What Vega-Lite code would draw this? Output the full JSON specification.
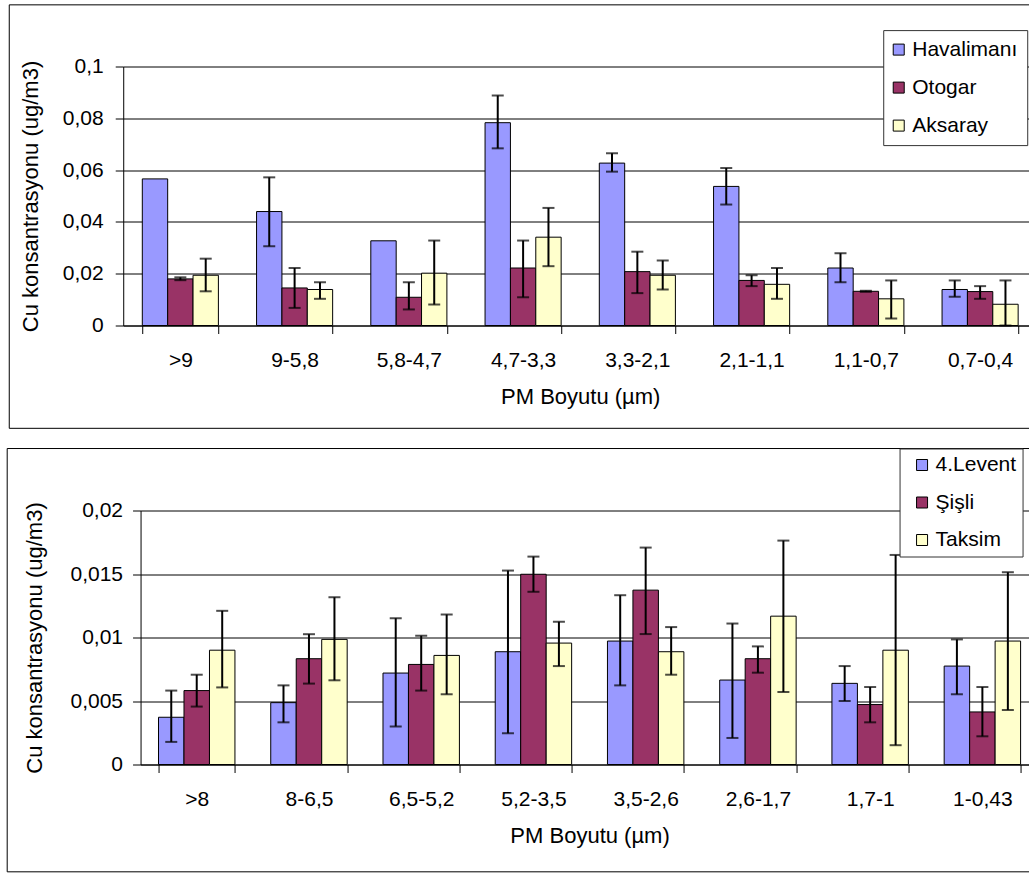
{
  "$schema": "https://vega.github.io/schema/vega-lite/v6.json",
  "padding": {"left": 6, "top": 3.5, "right": 0, "bottom": 0},
  "background": "#ffffff",
  "config": {
    "font": "Liberation Sans",
    "view": {"stroke": null},
    "axis": {
      "domainColor": "#000", "tickColor": "#000", "labelColor": "#000", "titleColor": "#000",
      "labelFontSize": 21, "titleFontSize": 22, "titleFontWeight": "normal",
      "tickSize": 8, "gridColor": "#000", "gridOpacity": 1, "domainWidth": 1, "tickWidth": 1
    },
    "axisX": {"labelAngle": 0, "tickBand": "extent", "labelPadding": 16, "titlePadding": 16, "grid": false},
    "axisY": {"grid": true},
    "legend": {
      "labelFontSize": 21, "labelColor": "#000", "symbolType": "square", "symbolSize": 121,
      "symbolStrokeColor": "#000", "symbolStrokeWidth": 1, "strokeColor": "#333", "fillColor": "#fff",
      "padding": 9, "rowPadding": 16, "labelOffset": 3, "title": null
    }
  },
  "datasets": {
    "top": [
      {"size": ">9", "site": "Havalimanı", "value": 0.0566},
      {"size": ">9", "site": "Otogar", "value": 0.0180, "lo": 0.0175, "hi": 0.0186},
      {"size": ">9", "site": "Aksaray", "value": 0.0194, "lo": 0.0132, "hi": 0.0258},
      {"size": "9-5,8", "site": "Havalimanı", "value": 0.0440, "lo": 0.0306, "hi": 0.0572},
      {"size": "9-5,8", "site": "Otogar", "value": 0.0145, "lo": 0.0068, "hi": 0.0222},
      {"size": "9-5,8", "site": "Aksaray", "value": 0.0139, "lo": 0.0103, "hi": 0.0167},
      {"size": "5,8-4,7", "site": "Havalimanı", "value": 0.0327},
      {"size": "5,8-4,7", "site": "Otogar", "value": 0.0109, "lo": 0.0062, "hi": 0.0167},
      {"size": "5,8-4,7", "site": "Aksaray", "value": 0.0202, "lo": 0.0081, "hi": 0.0328},
      {"size": "4,7-3,3", "site": "Havalimanı", "value": 0.0783, "lo": 0.0684, "hi": 0.0888},
      {"size": "4,7-3,3", "site": "Otogar", "value": 0.0222, "lo": 0.0109, "hi": 0.0328},
      {"size": "4,7-3,3", "site": "Aksaray", "value": 0.0341, "lo": 0.0229, "hi": 0.0454},
      {"size": "3,3-2,1", "site": "Havalimanı", "value": 0.0627, "lo": 0.0594, "hi": 0.0665},
      {"size": "3,3-2,1", "site": "Otogar", "value": 0.0208, "lo": 0.0125, "hi": 0.0285},
      {"size": "3,3-2,1", "site": "Aksaray", "value": 0.0194, "lo": 0.0139, "hi": 0.0251},
      {"size": "2,1-1,1", "site": "Havalimanı", "value": 0.0537, "lo": 0.0467, "hi": 0.0608},
      {"size": "2,1-1,1", "site": "Otogar", "value": 0.0174, "lo": 0.0152, "hi": 0.0194},
      {"size": "2,1-1,1", "site": "Aksaray", "value": 0.0159, "lo": 0.0103, "hi": 0.0222},
      {"size": "1,1-0,7", "site": "Havalimanı", "value": 0.0222, "lo": 0.0167, "hi": 0.0279},
      {"size": "1,1-0,7", "site": "Otogar", "value": 0.0132, "lo": 0.0130, "hi": 0.0134},
      {"size": "1,1-0,7", "site": "Aksaray", "value": 0.0103, "lo": 0.0027, "hi": 0.0174},
      {"size": "0,7-0,4", "site": "Havalimanı", "value": 0.0139, "lo": 0.0111, "hi": 0.0174},
      {"size": "0,7-0,4", "site": "Otogar", "value": 0.0131, "lo": 0.0103, "hi": 0.0152},
      {"size": "0,7-0,4", "site": "Aksaray", "value": 0.0082, "lo": 0.0, "hi": 0.0174}
    ],
    "bottom": [
      {"size": ">8", "site": "4.Levent", "value": 0.00372, "lo": 0.00178, "hi": 0.00582},
      {"size": ">8", "site": "Şişli", "value": 0.00582, "lo": 0.00456, "hi": 0.00707},
      {"size": ">8", "site": "Taksim", "value": 0.0090, "lo": 0.00607, "hi": 0.0121},
      {"size": "8-6,5", "site": "4.Levent", "value": 0.00487, "lo": 0.00332, "hi": 0.00623},
      {"size": "8-6,5", "site": "Şişli", "value": 0.00833, "lo": 0.00637, "hi": 0.01026},
      {"size": "8-6,5", "site": "Taksim", "value": 0.00985, "lo": 0.00663, "hi": 0.01317},
      {"size": "6,5-5,2", "site": "4.Levent", "value": 0.0072, "lo": 0.0030, "hi": 0.01152},
      {"size": "6,5-5,2", "site": "Şişli", "value": 0.00788, "lo": 0.00582, "hi": 0.01014},
      {"size": "6,5-5,2", "site": "Taksim", "value": 0.00859, "lo": 0.00553, "hi": 0.01181},
      {"size": "5,2-3,5", "site": "4.Levent", "value": 0.00888, "lo": 0.00246, "hi": 0.01527},
      {"size": "5,2-3,5", "site": "Şişli", "value": 0.01498, "lo": 0.0136, "hi": 0.01637},
      {"size": "5,2-3,5", "site": "Taksim", "value": 0.00956, "lo": 0.00775, "hi": 0.01124},
      {"size": "3,5-2,6", "site": "4.Levent", "value": 0.00972, "lo": 0.00623, "hi": 0.01333},
      {"size": "3,5-2,6", "site": "Şişli", "value": 0.01373, "lo": 0.01027, "hi": 0.01708},
      {"size": "3,5-2,6", "site": "Taksim", "value": 0.00888, "lo": 0.00707, "hi": 0.01082},
      {"size": "2,6-1,7", "site": "4.Levent", "value": 0.00665, "lo": 0.00209, "hi": 0.0111},
      {"size": "2,6-1,7", "site": "Şişli", "value": 0.00833, "lo": 0.00723, "hi": 0.0093},
      {"size": "2,6-1,7", "site": "Taksim", "value": 0.01168, "lo": 0.00571, "hi": 0.01763},
      {"size": "1,7-1", "site": "4.Levent", "value": 0.00639, "lo": 0.005, "hi": 0.00775},
      {"size": "1,7-1", "site": "Şişli", "value": 0.00472, "lo": 0.00332, "hi": 0.0061},
      {"size": "1,7-1", "site": "Taksim", "value": 0.009, "lo": 0.00152, "hi": 0.0165},
      {"size": "1-0,43", "site": "4.Levent", "value": 0.00775, "lo": 0.00553, "hi": 0.00985},
      {"size": "1-0,43", "site": "Şişli", "value": 0.00414, "lo": 0.00222, "hi": 0.0061},
      {"size": "1-0,43", "site": "Taksim", "value": 0.00972, "lo": 0.00429, "hi": 0.01514}
    ]
  },
  "spacing": 18,
  "center": true,
  "resolve": {
    "scale": {"x": "independent", "y": "independent", "xOffset": "independent", "color": "independent"},
    "legend": {"color": "independent"}
  },
  "vconcat": [
    {
      "width": 914,
      "height": 259,
      "data": {"name": "top"},
      "resolve": {"scale": {"x": "independent"}, "axis": {"x": "independent"}},
      "layer": [
        {
          "data": {"values": [{"part": "frame"}]},
          "mark": {"type": "rect", "filled": false, "color": "#000", "strokeWidth": 1},
          "encoding": {
            "x": {"datum": -0.1247, "type": "quantitative", "scale": {"domain": [0, 1]}, "axis": null},
            "x2": {"datum": 1.0263},
            "y": {"datum": 0.1238, "type": "quantitative", "scale": {"domain": [0, 0.1], "nice": false, "zero": false}, "title": "Cu konsantrasyonu (ug/m3)"},
            "y2": {"datum": -0.0397}
          }
        },
        {
          "encoding": {
            "x": {"field": "size", "type": "nominal", "sort": [">9", "9-5,8", "5,8-4,7", "4,7-3,3", "3,3-2,1", "2,1-1,1", "1,1-0,7", "0,7-0,4"], "scale": {"paddingInner": 0.334, "paddingOuter": 0.167}, "title": "PM Boyutu (µm)", "axis": {"orient": "bottom"}},
            "xOffset": {"field": "site", "type": "nominal", "scale": {"domain": ["Havalimanı", "Otogar", "Aksaray"], "paddingInner": 0, "paddingOuter": 0}}
          },
          "layer": [
            {
              "mark": {"type": "bar", "stroke": "#000", "strokeWidth": 1},
              "encoding": {
                "y": {"field": "value", "type": "quantitative", "scale": {"domain": [0, 0.1], "nice": false}, "title": "Cu konsantrasyonu (ug/m3)",
                  "axis": {"values": [0, 0.02, 0.04, 0.06, 0.08, 0.1], "format": "~g", "labelExpr": "replace(datum.label, '.', ',')", "labelPadding": 12, "titlePadding": 20}},
                "color": {"field": "site", "type": "nominal", "scale": {"domain": ["Havalimanı", "Otogar", "Aksaray"], "range": ["#9999FF", "#993366", "#FFFFCC"]},
                  "legend": {"orient": "none", "legendX": 760, "legendY": -36.4, "symbolOffset": -4}}
              }
            },
            {
              "mark": {"type": "rule", "color": "#000", "strokeWidth": 2},
              "encoding": {
                "y": {"field": "lo", "type": "quantitative", "title": "Cu konsantrasyonu (ug/m3)"},
                "y2": {"field": "hi"}
              }
            },
            {
              "mark": {"type": "tick", "color": "#000", "thickness": 2, "size": 12},
              "encoding": {"y": {"field": "lo", "type": "quantitative", "title": "Cu konsantrasyonu (ug/m3)"}}
            },
            {
              "mark": {"type": "tick", "color": "#000", "thickness": 2, "size": 12},
              "encoding": {"y": {"field": "hi", "type": "quantitative", "title": "Cu konsantrasyonu (ug/m3)"}}
            }
          ]
        }
      ]
    },
    {
      "width": 898,
      "height": 254,
      "data": {"name": "bottom"},
      "resolve": {"scale": {"x": "independent"}, "axis": {"x": "independent"}},
      "layer": [
        {
          "data": {"values": [{"part": "frame"}]},
          "mark": {"type": "rect", "filled": false, "color": "#000", "strokeWidth": 1},
          "encoding": {
            "x": {"datum": -0.1485, "type": "quantitative", "scale": {"domain": [0, 1]}, "axis": null},
            "x2": {"datum": 1.006},
            "y": {"datum": 0.02488, "type": "quantitative", "scale": {"domain": [0, 0.02], "nice": false, "zero": false}, "title": "Cu konsantrasyonu (ug/m3)"},
            "y2": {"datum": -0.00845}
          }
        },
        {
          "encoding": {
            "x": {"field": "size", "type": "nominal", "sort": [">8", "8-6,5", "6,5-5,2", "5,2-3,5", "3,5-2,6", "2,6-1,7", "1,7-1", "1-0,43"], "scale": {"paddingInner": 0.319, "paddingOuter": 0.16}, "title": "PM Boyutu (µm)", "axis": {"orient": "bottom"}},
            "xOffset": {"field": "site", "type": "nominal", "scale": {"domain": ["4.Levent", "Şişli", "Taksim"], "paddingInner": 0, "paddingOuter": 0}}
          },
          "layer": [
            {
              "mark": {"type": "bar", "stroke": "#000", "strokeWidth": 1},
              "encoding": {
                "y": {"field": "value", "type": "quantitative", "scale": {"domain": [0, 0.02], "nice": false}, "title": "Cu konsantrasyonu (ug/m3)",
                  "axis": {"values": [0, 0.005, 0.01, 0.015, 0.02], "format": "~g", "labelExpr": "replace(datum.label, '.', ',')", "labelPadding": 10, "titlePadding": 24}},
                "color": {"field": "site", "type": "nominal", "scale": {"domain": ["4.Levent", "Şişli", "Taksim"], "range": ["#9999FF", "#993366", "#FFFFCC"]},
                  "legend": {"orient": "none", "legendX": 759, "legendY": -62, "padding": 6, "rowPadding": 15.5, "symbolOffset": 6}}
              }
            },
            {
              "mark": {"type": "rule", "color": "#000", "strokeWidth": 2},
              "encoding": {
                "y": {"field": "lo", "type": "quantitative", "title": "Cu konsantrasyonu (ug/m3)"},
                "y2": {"field": "hi"}
              }
            },
            {
              "mark": {"type": "tick", "color": "#000", "thickness": 2, "size": 12},
              "encoding": {"y": {"field": "lo", "type": "quantitative", "title": "Cu konsantrasyonu (ug/m3)"}}
            },
            {
              "mark": {"type": "tick", "color": "#000", "thickness": 2, "size": 12},
              "encoding": {"y": {"field": "hi", "type": "quantitative", "title": "Cu konsantrasyonu (ug/m3)"}}
            }
          ]
        }
      ]
    }
  ]
}
